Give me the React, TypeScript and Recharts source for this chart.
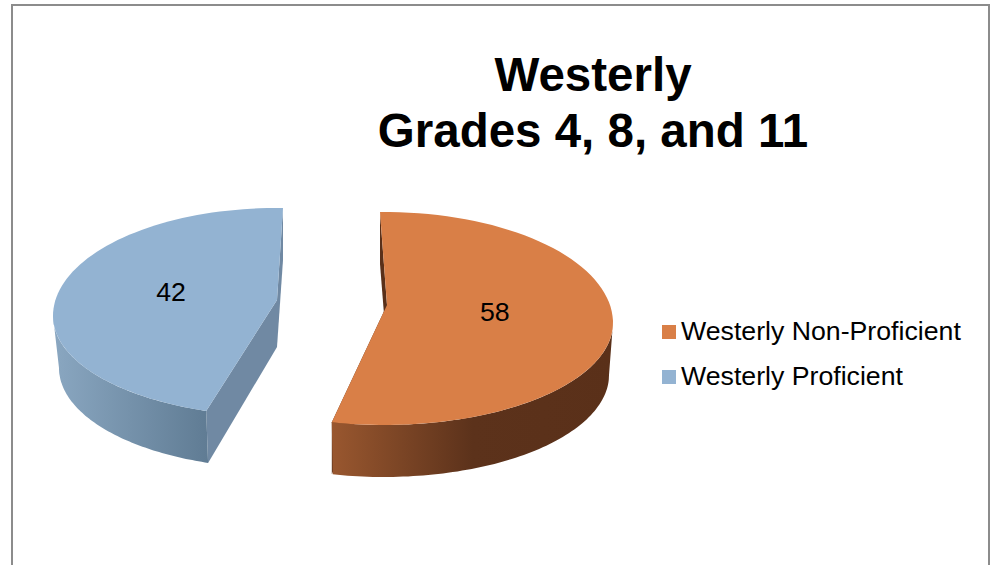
/**
 * Westerly proficiency chart: exploded 3D pie.
 * Recharts computes the slice angles, the custom shape projects them onto a tilted disc.
 */
import { PieChart, Pie, Legend } from 'recharts';

const names = ['Westerly Non-Proficient', 'Westerly Proficient'];
const values = [58, 42];
const fills = ['#D97F47', '#93B3D2'];
const titleLines = ['Westerly', 'Grades 4, 8, and 11'];

const FONT = '"Liberation Sans", Arial, sans-serif';
const DEPTH = 52;
const LABEL_REACH = 0.48;
const LABEL_LIFT = 7;

// How each exploded slice sits on the page. The picture's perspective is not a plain
// ellipse, so pie angles get a per slice scale and offset before projecting.
const VIEWS = [
  {
    ax: 387, ay: 305, cx: 384, cy: 323, rx: 229, ryBack: 111, ryFront: 102,
    rxBottom: 225, scale: 0.93, offset: -1, wall: 'wallOrange', face: '#5A3019',
  },
  {
    ax: 277, ay: 300, cx: 277, cy: 316, rx: 224, ryBack: 108, ryFront: 100,
    rxBottom: 218, scale: 1.0787, offset: -26.8, wall: 'wallBlue', face: '#7089A3',
  },
];

type View = (typeof VIEWS)[number];

const rad = (deg: number) => (deg * Math.PI) / 180;
// Recharts angle (counter-clockwise from 3 o'clock) to clock angle
const clock = (angle: number) => 90 - angle;
const warp = (v: View, theta: number) => theta * v.scale + v.offset;

function rim(v: View, phi: number, bottom = false) {
  const c = Math.cos(rad(phi));
  const ry = c > 0 ? v.ryBack : v.ryFront;
  return {
    x: v.cx + (bottom ? v.rxBottom : v.rx) * Math.sin(rad(phi)),
    y: v.cy - ry * c + (bottom ? DEPTH : 0),
  };
}

function arc(v: View, from: number, to: number, bottom = false) {
  const pts = [];
  const steps = 80;
  for (let i = 0; i <= steps; i++) {
    pts.push(rim(v, from + ((to - from) * i) / steps, bottom));
  }
  return pts;
}

const toPath = (pts: { x: number; y: number }[]) =>
  pts.map((p, i) => `${i ? 'L' : 'M'}${p.x.toFixed(1)} ${p.y.toFixed(1)}`).join(' ') + ' Z';

function SliceShape(props: any) {
  const i = names.indexOf(props.name);
  const v = VIEWS[i];
  const from = warp(v, clock(props.startAngle));
  const to = warp(v, clock(props.endAngle));
  // only the front half of the rim shows a wall
  const wallFrom = Math.max(from, 90);
  const wallTo = Math.min(to, 270);
  const wall = [...arc(v, wallFrom, wallTo), ...arc(v, wallFrom, wallTo, true).reverse()];
  const apex = { x: v.ax, y: v.ay };
  const apexLow = { x: v.ax, y: v.ay + DEPTH - 5 };
  const faces = [from, to].map((phi) => {
    const top = rim(v, phi);
    const low = i === 0 || phi === to ? { x: top.x, y: top.y + DEPTH } : rim(v, phi, true);
    return toPath([apex, top, low, apexLow]);
  });
  return (
    <g>
      {faces.map((d, k) => (
        <path key={k} d={d} fill={v.face} />
      ))}
      <path d={toPath(wall)} fill={`url(#${v.wall})`} />
      <path d={toPath([apex, ...arc(v, from, to)])} fill={props.fill} />
    </g>
  );
}

function SliceLabel(props: any) {
  const v = VIEWS[names.indexOf(props.name)];
  const p = rim(v, warp(v, clock(props.midAngle)));
  return (
    <text
      x={v.ax + (p.x - v.ax) * LABEL_REACH}
      y={v.ay + (p.y - v.ay) * LABEL_REACH - LABEL_LIFT}
      textAnchor="middle"
      dominantBaseline="central"
      fontFamily={FONT}
      fontSize={26.7}
      fill="#000000"
    >
      {props.value}
    </text>
  );
}

function LegendList({ payload }: any) {
  return (
    <div>
      {(payload || []).map((item: any) => (
        <div
          key={item.value}
          style={{ display: 'flex', alignItems: 'center', height: 45, fontFamily: FONT, fontSize: 26.7, color: '#000' }}
        >
          <span style={{ width: 14, height: 14, marginRight: 5, background: item.color, flex: 'none' }} />
          <span style={{ whiteSpace: 'nowrap' }}>{item.value}</span>
        </div>
      ))}
    </div>
  );
}

const pieData = names.map((name, i) => ({ name, value: values[i], fill: fills[i] }));

export default function App() {
  return (
    <div style={{ position: 'fixed', left: 0, top: 0, width: 992, height: 565, overflow: 'hidden', background: '#fff' }}>
      <div
        style={{
          position: 'absolute',
          left: 11,
          top: 4,
          width: 979,
          height: 600,
          boxSizing: 'border-box',
          border: '2px solid #8C8C8C',
        }}
      />
      <div style={{ position: 'absolute', left: 0, top: 0 }}>
        <PieChart width={992} height={565}>
          <defs>
            <linearGradient id="wallOrange" gradientUnits="userSpaceOnUse" x1="332" x2="613" y1="0" y2="0">
              <stop offset="0" stopColor="#99572F" />
              <stop offset="0.5" stopColor="#5C321B" />
              <stop offset="1" stopColor="#5A3019" />
            </linearGradient>
            <linearGradient id="wallBlue" gradientUnits="userSpaceOnUse" x1="53" x2="207" y1="0" y2="0">
              <stop offset="0" stopColor="#8AA7C1" />
              <stop offset="1" stopColor="#607C94" />
            </linearGradient>
          </defs>
          {titleLines.map((line, i) => (
            <text
              key={line}
              x={593}
              y={91 + i * 56}
              textAnchor="middle"
              fontFamily={FONT}
              fontWeight="bold"
              fontSize={47.5}
              fill="#000000"
            >
              {line}
            </text>
          ))}
          <Pie
            data={pieData}
            dataKey="value"
            nameKey="name"
            cx={330}
            cy={320}
            outerRadius={200}
            startAngle={90}
            endAngle={-270}
            stroke="none"
            shape={SliceShape}
            label={SliceLabel}
            labelLine={false}
            isAnimationActive={false}
          />
          <Legend content={LegendList} wrapperStyle={{ left: 662, top: 309, width: 320 }} />
        </PieChart>
      </div>
    </div>
  );
}
